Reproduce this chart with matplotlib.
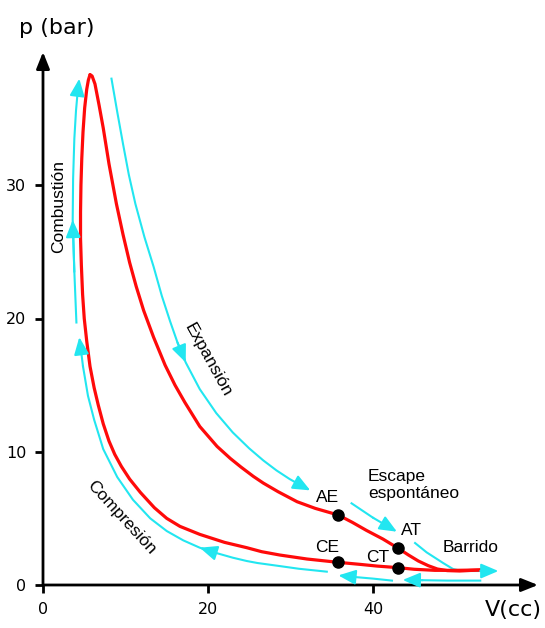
import matplotlib
matplotlib.use("Agg")
import matplotlib.pyplot as plt

# ---------------- data ----------------
# Red cycle: expansion branch (from peak towards large volume)
exp_V = [5.7, 5.95, 6.3, 6.8, 7.3, 8.0, 8.9, 9.7, 10.5, 11.3, 12.2, 13.4, 14.8, 16.0,
         17.2, 19.0, 21.1, 22.7, 24.0, 25.5, 26.7, 28.5, 30.8, 33.0, 35.8, 37.5,
         39.2, 41.2, 43.07, 44.3, 45.5, 46.7, 47.8, 49.0, 50.5, 52.0, 54.0]
exp_p = [38.3, 38.2, 37.6, 36.0, 34.3, 31.6, 28.6, 26.3, 24.2, 22.4, 20.6, 18.6, 16.5, 15.0,
         13.7, 11.9, 10.4, 9.5, 8.85, 8.15, 7.65, 7.0, 6.25, 5.75, 5.25, 4.7,
         4.1, 3.45, 2.75, 2.25, 1.8, 1.45, 1.2, 1.08, 1.05, 1.1, 1.15]
# Red cycle: compression branch (from large volume back to the peak)
comp_V = [54.0, 52.0, 50.0, 47.5, 45.0, 43.07, 40.5, 38.4, 35.8, 32.0, 28.7, 26.5, 24.7,
          22.0, 19.0, 16.6, 15.0, 13.5, 11.8, 10.5, 9.5, 8.7, 8.0, 7.3, 6.7, 6.2,
          5.7, 5.3, 5.0, 4.8, 4.65, 4.55, 4.55, 4.6, 4.7, 4.85, 5.05, 5.3, 5.5, 5.7]
comp_p = [1.15, 1.12, 1.1, 1.1, 1.18, 1.3, 1.42, 1.55, 1.7, 1.95, 2.25, 2.5, 2.8,
          3.2, 3.8, 4.4, 5.0, 5.8, 6.95, 7.95, 8.9, 9.8, 10.8, 12.1, 13.5, 14.8,
          16.4, 18.3, 20.0, 21.8, 24.0, 26.0, 28.0, 30.0, 32.0, 34.0, 35.8, 37.2, 37.9, 38.3]

# Cyan direction arrows
comb_V = [4.05, 3.8, 3.6, 3.65, 3.8, 4.0, 4.2, 4.4]
comb_p = [19.7, 23.5, 27.4, 30.5, 33.5, 35.6, 37.0, 38.0]

cexp_V = [8.3, 9.0, 9.7, 10.4, 11.2, 12.3, 13.4, 14.4, 15.4, 16.3, 17.3, 19.0, 21.0,
          23.0, 25.0, 26.7, 28.3, 29.9, 31.2, 32.4]
cexp_p = [38.0, 35.5, 33.1, 30.8, 28.6, 26.1, 23.9, 21.7, 19.8, 18.2, 16.7, 14.7, 12.9,
          11.45, 10.25, 9.35, 8.6, 7.95, 7.5, 7.1]

cesc_V = [37.4, 40.0, 42.9]
cesc_p = [6.13, 5.05, 4.0]

cbar_V = [45.1, 46.5, 48.5, 49.7, 50.8, 53.0, 55.2]
cbar_p = [3.15, 2.45, 1.65, 1.2, 1.05, 1.05, 1.05]

cret2_V = [53.0, 49.0, 46.0, 43.6]
cret2_p = [0.33, 0.33, 0.36, 0.38]

cret1_V = [42.3, 40.0, 37.2, 35.8]
cret1_p = [0.33, 0.48, 0.63, 0.72]

ccomp_V = [34.4, 31.0, 28.7, 26.0, 24.7, 23.0, 21.0, 19.0, 17.0, 15.0, 13.0, 10.9,
           9.0, 7.3, 6.2, 5.45, 4.85, 4.4]
ccomp_p = [1.0, 1.22, 1.42, 1.65, 1.8, 2.05, 2.4, 2.8, 3.35, 4.05, 5.0, 6.4,
           8.1, 10.2, 12.4, 14.2, 16.4, 18.6]

# Marked points
pt_labels = ["AE", "AT", "CE", "CT"]
pt_V = [35.8, 43.07, 35.8, 43.07]
pt_p = [5.25, 2.75, 1.7, 1.3]

x_ticks = [0, 20, 40]
y_ticks = [0, 10, 20, 30]

# ---------------- drawing ----------------
RED = "#ff0a0a"
CYAN = "#22e6f0"
TXT = "Liberation Sans"

fig = plt.figure(figsize=(5.45, 6.28), dpi=100)
ax = fig.add_axes([43 / 545, 43 / 628, 495 / 545, 533 / 628])
ax.set_xlim(0, 60)
ax.set_ylim(0, 40)
for s in ax.spines.values():
    s.set_visible(False)

# axes with arrowheads
ax.annotate("", xy=(1, 0), xytext=(0, 0), xycoords="axes fraction",
            arrowprops=dict(arrowstyle="-|>,head_length=1.0,head_width=0.4",
                            color="black", lw=2.0, shrinkA=0, shrinkB=0),
            annotation_clip=False)
ax.annotate("", xy=(0, 1), xytext=(0, 0), xycoords="axes fraction",
            arrowprops=dict(arrowstyle="-|>,head_length=1.0,head_width=0.4",
                            color="black", lw=2.0, shrinkA=0, shrinkB=0),
            annotation_clip=False)

ax.set_xticks(x_ticks)
ax.set_yticks(y_ticks)
ax.tick_params(direction="out", length=6, width=2, labelsize=11.5, pad=6)

# red cycle
ax.plot(exp_V, exp_p, color=RED, lw=2.3, solid_capstyle="round",
        solid_joinstyle="round", zorder=3)
ax.plot(comp_V, comp_p, color=RED, lw=2.3, solid_capstyle="round",
        solid_joinstyle="round", zorder=3)


def cyan_line(V, p, tip=True, mids=()):
    ax.plot(V[:-1] if tip else V, p[:-1] if tip else p, color=CYAN, lw=1.5,
            solid_joinstyle="round", zorder=2)
    if tip:
        ax.annotate("", xy=(V[-1], p[-1]), xytext=(V[-2], p[-2]),
                    arrowprops=dict(arrowstyle="-|>,head_length=0.75,head_width=0.32",
                                    color=CYAN, lw=1.5, shrinkA=0, shrinkB=0,
                                    mutation_scale=14))
    for i in mids:
        ax.annotate("", xy=(V[i], p[i]), xytext=(V[i - 1], p[i - 1]),
                    arrowprops=dict(arrowstyle="-|>,head_length=0.75,head_width=0.32",
                                    color=CYAN, lw=1.5, shrinkA=0, shrinkB=0,
                                    mutation_scale=14))


cyan_line(comb_V, comb_p, mids=(2,))
cyan_line(cexp_V, cexp_p, mids=(10,))
cyan_line(cesc_V, cesc_p)
cyan_line(cbar_V, cbar_p)
cyan_line(cret2_V, cret2_p)
cyan_line(cret1_V, cret1_p)
cyan_line(ccomp_V, ccomp_p, mids=(7,))

# dots
ax.plot(pt_V, pt_p, "o", color="black", ms=8, zorder=5)

# labels
fs = 12.5
ax.text(34.5, 6.6, "AE", fontsize=fs, family=TXT, ha="center", va="center")
ax.text(44.7, 4.1, "AT", fontsize=fs, family=TXT, ha="center", va="center")
ax.text(34.4, 2.85, "CE", fontsize=fs, family=TXT, ha="center", va="center")
ax.text(40.6, 2.1, "CT", fontsize=fs, family=TXT, ha="center", va="center")
ax.text(39.4, 7.5, "Escape\nespontáneo", fontsize=fs, family=TXT, ha="left",
        va="center", linespacing=1.15)
ax.text(51.8, 2.8, "Barrido", fontsize=fs, family=TXT, ha="center", va="center")
ax.text(1.95, 28.4, "Combustión", fontsize=fs, family=TXT, ha="center", va="center",
        rotation=90, rotation_mode="anchor")
ax.text(20.0, 16.9, "Expansión", fontsize=fs, family=TXT, ha="center", va="center",
        rotation=-61, rotation_mode="anchor")
ax.text(9.45, 5.1, "Compresión", fontsize=fs, family=TXT, ha="center", va="center",
        rotation=-47.5, rotation_mode="anchor")

fig.text(57 / 545, 1 - 28 / 628, "p (bar)", fontsize=16, ha="center", va="center")
fig.text(513 / 545, 1 - 610 / 628, "V(cc)", fontsize=16, ha="center", va="center")

fig.savefig("out.png", dpi=100)
